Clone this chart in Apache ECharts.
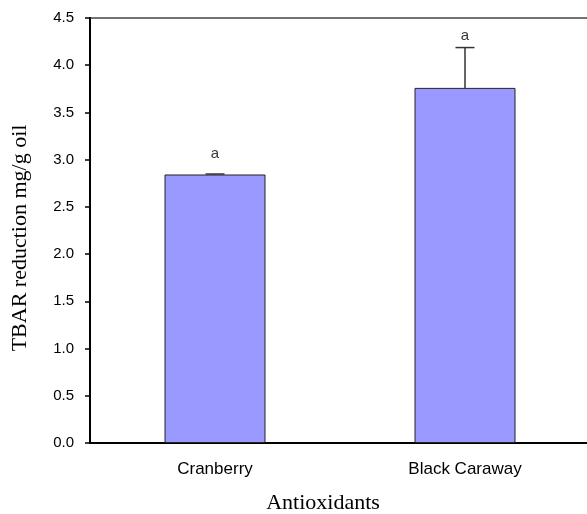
<!DOCTYPE html>
<html>
<head>
<meta charset="utf-8">
<script src="https://cdn.jsdelivr.net/npm/echarts@6/dist/echarts.min.js"></script>
<style>html,body{margin:0;padding:0;background:#fff;}#c{width:587px;height:514px;}</style>
</head>
<body>
<div id="c"></div>
<script>
var categories = ['Cranberry', 'Black Caraway'];
var means = [2.843, 3.76];
var errors = [0.005, 0.427];
var letters = ['a', 'a'];
var letterPos = [3.06, 4.31];
var yTicks = { min: 0, max: 4.5, interval: 0.5 };

var chart = echarts.init(document.getElementById('c'), null, { renderer: 'canvas' });
var option = {
  animation: false,
  backgroundColor: '#fff',
  grid: { left: 90, width: 500, top: 18, bottom: 71, outerBoundsMode: 'none', containLabel: false,
    show: true, borderColor: '#444', borderWidth: 1.5, backgroundColor: 'transparent' },
  xAxis: {
    type: 'category',
    data: categories,
    name: 'Antioxidants',
    nameLocation: 'middle',
    nameGap: 49,
    nameTextStyle: { fontFamily: 'Liberation Serif', fontSize: 22, color: '#000', padding: [0, 34, 0, 0] },
    axisLine: { lineStyle: { color: '#000', width: 2 } },
    axisTick: { show: false },
    axisLabel: { fontFamily: 'Liberation Sans', fontSize: 17, color: '#000', margin: 18 }
  },
  yAxis: {
    type: 'value',
    min: yTicks.min, max: yTicks.max, interval: yTicks.interval,
    name: 'TBAR reduction mg/g oil',
    nameLocation: 'middle',
    nameGap: 59,
    nameTextStyle: { fontFamily: 'Liberation Serif', fontSize: 22, color: '#000', padding: [0, 15, 0, 0] },
    axisLine: { show: true, lineStyle: { color: '#000', width: 2 } },
    axisTick: { show: true, length: 5, lineStyle: { color: '#000', width: 1.5 } },
    splitLine: { show: false },
    axisLabel: { fontFamily: 'Liberation Sans', fontSize: 15, color: '#000', margin: 16,
      formatter: function (v) { return v.toFixed(1); } }
  },
  series: [
    {
      type: 'bar',
      data: means,
      barWidth: 101,
      itemStyle: { color: '#9999FF', borderColor: '#222', borderWidth: 1 },
      z: 2
    },
    {
      type: 'custom',
      data: means.map(function (m, i) { return [i, m, m + errors[i]]; }),
      renderItem: function (params, api) {
        var x = api.value(0);
        var p0 = api.coord([x, api.value(1)]);
        var p1 = api.coord([x, api.value(2)]);
        var hw = 9.5;
        return {
          type: 'group',
          children: [
            { type: 'line', shape: { x1: p0[0], y1: p0[1], x2: p1[0], y2: p1[1] }, style: { stroke: '#333', lineWidth: 1.5 } },
            { type: 'line', shape: { x1: p1[0] - hw, y1: p1[1], x2: p1[0] + hw, y2: p1[1] }, style: { stroke: '#333', lineWidth: 1.5 } }
          ]
        };
      },
      z: 3
    },
    {
      type: 'scatter',
      data: letterPos.map(function (v, i) { return { value: [i, v], label: { formatter: letters[i] } }; }),
      symbolSize: 0,
      label: { show: true, position: 'inside', fontFamily: 'Liberation Sans', fontSize: 15, color: '#000' },
      z: 4
    }
  ]
};
chart.setOption(option);
</script>
</body>
</html>
